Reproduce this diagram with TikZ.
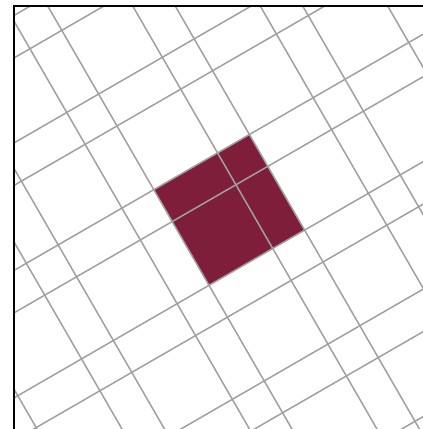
\documentclass[tikz,border=0pt]{standalone}
\usepackage{tikz}
\definecolor{gridgray}{RGB}{160,160,160}
\definecolor{tilefill}{RGB}{126,30,58}
\tikzset{
  gridline/.style={draw=gridgray, line width=1.5pt},
  frameline/.style={draw=black, line width=1.6pt},
  tile/.style={fill=tilefill}
}
\begin{document}
\begin{tikzpicture}[x=1pt,y=1pt]
\useasboundingbox (0,0) rectangle (423,429);
\begin{scope}
  \clip (14,0) rectangle (423,423);
  \begin{scope}[shift={(153.8pt,239.3pt)}, x={(31.87pt,18.4pt)}, y={(18.4pt,-31.87pt)}]
    \fill[tile] (0,0) -- (3,0) -- (3,3) -- (0,3) -- cycle;
    \foreach \k in {-3,...,3}{
      \draw[gridline] (3*\k,-9) -- (3*\k,12);
      \draw[gridline] (3*\k+2,-9) -- (3*\k+2,12);
      \draw[gridline] (-9,3*\k) -- (12,3*\k);
      \draw[gridline] (-9,3*\k+1) -- (12,3*\k+1);
    }
  \end{scope}
\end{scope}
\coordinate (corner) at (14,423);
\coordinate (topend) at (423,423);
\coordinate (leftend) at (14,0);
\draw[frameline] (topend) -- (corner) -- (leftend);
\end{tikzpicture}
\end{document}
